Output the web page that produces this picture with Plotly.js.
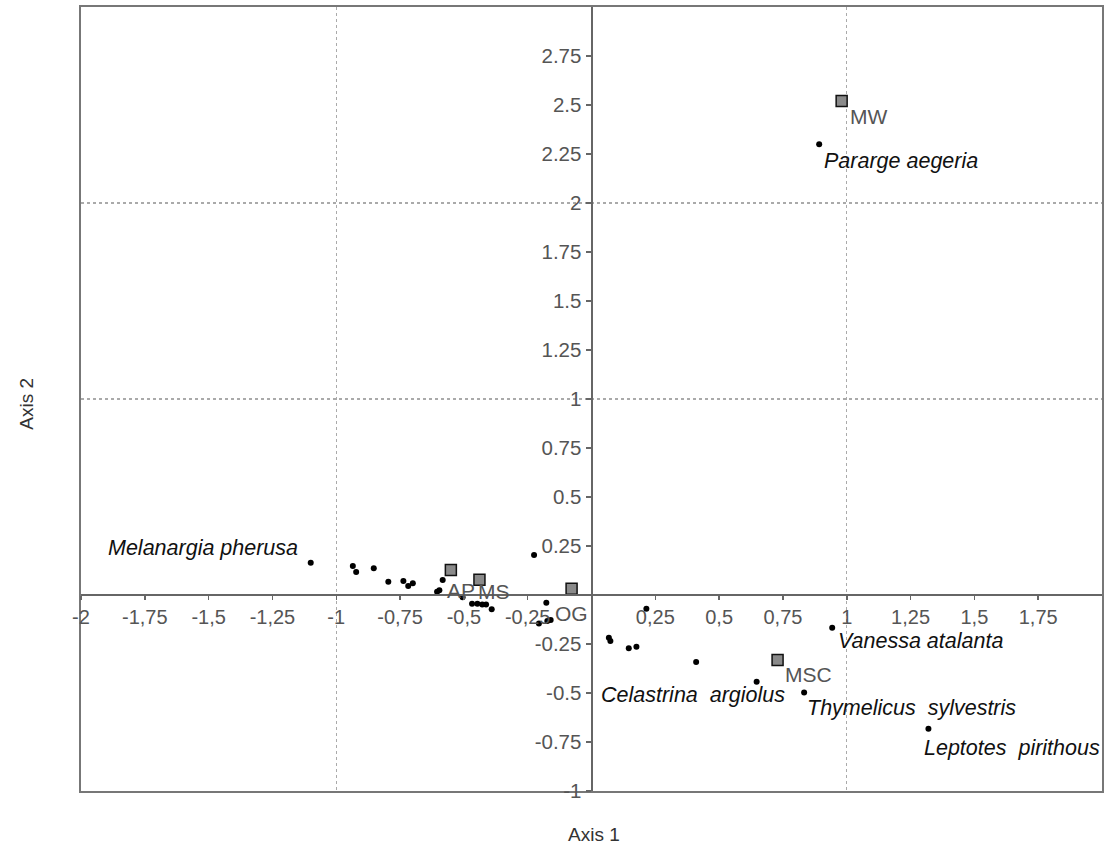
<!DOCTYPE html>
<html>
<head>
<meta charset="utf-8">
<script src="https://cdn.plot.ly/plotly-3.0.1.min.js"></script>
<style>html,body{margin:0;padding:0;background:#fff;}#chart{width:1104px;height:845px;}</style>
</head>
<body>
<div id="chart"></div>
<script>
// ---- Data ----
// Species points (unlabelled)
var speciesX = [-0.935, -0.922, -0.853, -0.796, -0.737, -0.718, -0.700, -0.583, -0.596, -0.605,
                -0.505, -0.468, -0.447, -0.428, -0.413, -0.391, -0.225, -0.177, -0.206, -0.173, -0.160,
                0.215, 0.068, 0.074, 0.146, 0.176, 0.410];
var speciesY = [0.148, 0.117, 0.136, 0.068, 0.071, 0.046, 0.060, 0.076, 0.024, 0.017,
                -0.012, -0.045, -0.045, -0.048, -0.048, -0.073, 0.204, -0.039, -0.146, -0.133, -0.128,
                -0.070, -0.218, -0.235, -0.272, -0.264, -0.342];
// Labelled species
var namedSpecies = ["Melanargia pherusa", "Pararge aegeria", "Vanessa atalanta",
                    "Celastrina\u00a0 argiolus", "Thymelicus\u00a0 sylvestris", "Leptotes\u00a0 pirithous"];
var namedX = [-1.100, 0.892, 0.943, 0.647, 0.833, 1.320];
var namedY = [0.165, 2.300, -0.167, -0.442, -0.498, -0.682];
// Sites
var sites = ["MW", "AP", "MS", "OG", "MSC"];
var siteX = [0.980, -0.551, -0.439, -0.078, 0.729];
var siteY = [2.520, 0.128, 0.078, 0.032, -0.332];
// Ticks
var xTickVals = [-2, -1.75, -1.5, -1.25, -1, -0.75, -0.5, -0.25, 0.25, 0.5, 0.75, 1, 1.25, 1.5, 1.75];
var xTickText = ["-2", "-1,75", "-1,5", "-1,25", "-1", "-0,75", "-0,5", "-0,25", "0,25", "0,5", "0,75", "1", "1,25", "1,5", "1,75"];
var yTickVals = [-1, -0.75, -0.5, -0.25, 0.25, 0.5, 0.75, 1, 1.25, 1.5, 1.75, 2, 2.25, 2.5, 2.75];
var yTickText = ["-1", "-0.75", "-0.5", "-0.25", "0.25", "0.5", "0.75", "1", "1.25", "1.5", "1.75", "2", "2.25", "2.5", "2.75"];

// ---- Label styling (offsets in px) ----
var namedStyle = [
  {xanchor: "right", xshift: -11, yshift: 15},
  {xanchor: "left", xshift: 3, yshift: -17},
  {xanchor: "left", xshift: 4, yshift: -13},
  {xanchor: "right", xshift: 30, yshift: -13},
  {xanchor: "left", xshift: 1, yshift: -15},
  {xanchor: "left", xshift: -6, yshift: -19}
];
var siteStyle = [
  {xshift: 6, yshift: -15},
  {xshift: -6, yshift: -21},
  {xshift: -3, yshift: -12},
  {xshift: -19, yshift: -25},
  {xshift: 5, yshift: -14}
];

var FONT = "Liberation Sans, Arial, sans-serif";

var traces = [
  {x: [], y: [], xaxis: "x2", yaxis: "y2", type: "scatter", mode: "markers", showlegend: false, hoverinfo: "skip"},
  {x: speciesX.concat(namedX), y: speciesY.concat(namedY), type: "scatter", mode: "markers",
   marker: {size: 6, color: "#000"}, showlegend: false, cliponaxis: false},
  {x: siteX, y: siteY, type: "scatter", mode: "markers",
   marker: {symbol: "square", size: 11, color: "#8a8a8a", line: {color: "#111", width: 1.5}},
   showlegend: false, cliponaxis: false}
];

var annotations = [];
namedSpecies.forEach(function (n, i) {
  var s = namedStyle[i];
  annotations.push({x: namedX[i], y: namedY[i], xref: "x", yref: "y", text: n, showarrow: false,
    xanchor: s.xanchor, yanchor: "middle", xshift: s.xshift, yshift: s.yshift,
    font: {family: FONT, size: 21.5, color: "#111", style: "italic"}});
});
sites.forEach(function (n, i) {
  var s = siteStyle[i];
  annotations.push({x: siteX[i], y: siteY[i], xref: "x", yref: "y", text: n, showarrow: false,
    xanchor: "left", yanchor: "middle", xshift: s.xshift, yshift: s.yshift,
    font: {family: FONT, size: 21, color: "#555"}});
});
annotations.push({x: 0.502, y: 0, xref: "paper", yref: "paper", text: "Axis 1", showarrow: false,
  xanchor: "center", yanchor: "middle", yshift: -43, font: {family: FONT, size: 19, color: "#333"}});
annotations.push({x: 0, y: 0.494, xref: "paper", yref: "paper", text: "Axis 2", showarrow: false,
  textangle: -90, xanchor: "center", yanchor: "middle", xshift: -54, font: {family: FONT, size: 19, color: "#333"}});

var layout = {
  width: 1104, height: 845,
  margin: {l: 81, r: 2, t: 7, b: 54, pad: 0},
  paper_bgcolor: "#fff", plot_bgcolor: "#fff",
  showlegend: false,
  font: {family: FONT, color: "#555"},
  xaxis: {range: [-2, 2], anchor: "free", position: 0.25, showline: true, linecolor: "#666", linewidth: 2,
    ticks: "outside", ticklen: 4, tickcolor: "#666", tickwidth: 1.5,
    tickmode: "array", tickvals: xTickVals, ticktext: xTickText,
    tickfont: {family: FONT, size: 20, color: "#555"}, showgrid: false, zeroline: false, fixedrange: true},
  yaxis: {range: [-1, 3], anchor: "free", position: 0.5, showline: true, linecolor: "#666", linewidth: 2,
    ticks: "outside", ticklen: 5, tickcolor: "#666", tickwidth: 1.5,
    tickmode: "array", tickvals: yTickVals, ticktext: yTickText,
    tickfont: {family: FONT, size: 20.5, color: "#555"}, showgrid: false, zeroline: false, fixedrange: true},
  xaxis2: {range: [-2, 2], overlaying: "x", anchor: "y2", side: "bottom", showgrid: true, dtick: 1, tick0: 0,
    gridcolor: "#aaa", griddash: "dot", gridwidth: 1.2, showticklabels: false, ticks: "",
    showline: true, mirror: true, linecolor: "#777", linewidth: 2, zeroline: false, fixedrange: true},
  yaxis2: {range: [-1, 3], overlaying: "y", anchor: "x2", side: "left", showgrid: true, dtick: 1, tick0: 0,
    gridcolor: "#aaa", griddash: "dot", gridwidth: 1.2, showticklabels: false, ticks: "",
    showline: true, mirror: true, linecolor: "#777", linewidth: 2, zeroline: false, fixedrange: true},
  annotations: annotations
};

Plotly.newPlot("chart", traces, layout, {displayModeBar: false, staticPlot: true});
</script>
</body>
</html>
